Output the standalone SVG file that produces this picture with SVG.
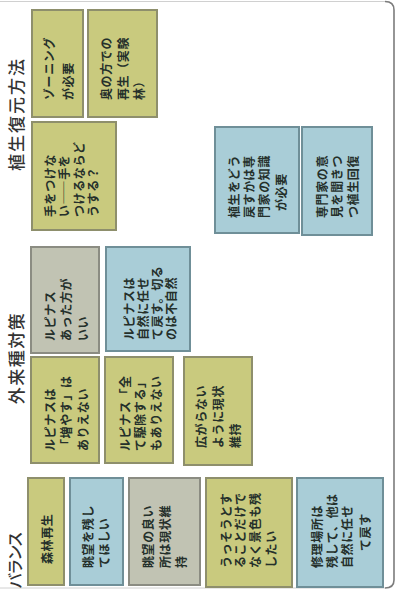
<svg xmlns="http://www.w3.org/2000/svg" width="398" height="591" viewBox="0 0 398 591">
<style>
.bg{fill:#ffffff}
.frame{fill:none;stroke:#7c7c7c;stroke-width:1.6}
.frame2{fill:none;stroke:#d0d0d0;stroke-width:1}
.olive rect{fill:#c9ca7e;stroke:#8e8f6c;stroke-width:2}
.blue rect{fill:#a9cdd7;stroke:#6f8f98;stroke-width:2}
.gray rect{fill:#c1c3b3;stroke:#8b8c82;stroke-width:2}
.t{font-family:"Noto Sans CJK JP","Noto Sans CJK SC",sans-serif;font-size:12px;font-weight:700;fill:#25302b;dominant-baseline:central;letter-spacing:0.6px}
.h{font-family:"Noto Sans CJK JP","Noto Sans CJK SC",sans-serif;font-size:17px;font-weight:500;fill:#333333;dominant-baseline:central;text-anchor:middle}
</style>
<rect class="bg" x="0" y="0" width="398" height="591"/>
<g id="frame">
<path class="frame2" d="M0 1.5 H385"/>
<path class="frame" d="M385 1.5 Q394 1.5 394 10 V580 Q394 588 385 588"/>
<path class="frame2" d="M385 588 H0"/>
</g>
<g id="headings">
<text id="h1" class="h" style="letter-spacing:2px" transform="translate(15 114) rotate(-90)">植生復元方法</text>
<text id="h2" class="h" style="letter-spacing:1.5px" transform="translate(15 358) rotate(-90)">外来種対策</text>
<text id="h3" class="h" style="font-size:16px;letter-spacing:-2px" transform="translate(14 561) rotate(-90)">バランス</text>
</g>
<g id="connectors"></g>

<g id="n1" class="olive">
<rect x="32" y="10" width="51" height="107"/>
<text class="t" transform="translate(48 100) rotate(-90)">ゾーニング</text>
<text class="t" transform="translate(67 100) rotate(-90)">が必要</text>
</g>
<g id="n2" class="olive">
<rect x="88" y="10" width="69" height="107"/>
<text class="t" transform="translate(105 100) rotate(-90)">奥の方での</text>
<text class="t" transform="translate(122 100) rotate(-90)">再生（実験</text>
<text class="t" transform="translate(138 100) rotate(-90)">林）</text>
</g>
<g id="n3" class="olive">
<rect x="32" y="122" width="84" height="108"/>
<text class="t" transform="translate(49 217) rotate(-90)">手をつけな</text>
<text class="t" transform="translate(63.5 217) rotate(-90)">い――手を</text>
<text class="t" transform="translate(78 217) rotate(-90)">つけるならど</text>
<text class="t" transform="translate(92.5 217) rotate(-90)">うする？</text>
</g>
<g id="n4" class="gray">
<rect x="31" y="247" width="68" height="106"/>
<text class="t" transform="translate(49 341) rotate(-90)">ルピナス</text>
<text class="t" transform="translate(65.5 341) rotate(-90)">あった方が</text>
<text class="t" transform="translate(82 341) rotate(-90)">いい</text>
</g>
<g id="n5" class="blue">
<rect x="106" y="247" width="84" height="104"/>
<text class="t" transform="translate(128 340) rotate(-90)">ルピナスは</text>
<text class="t" transform="translate(142 340) rotate(-90)">自然に任せ</text>
<text class="t" transform="translate(156 340) rotate(-90)">て戻す。切る</text>
<text class="t" transform="translate(170 340) rotate(-90)">のは不自然</text>
</g>
<g id="n6" class="blue">
<rect x="215" y="127" width="84" height="106"/>
<text class="t" transform="translate(233 218) rotate(-90)">植生をどう</text>
<text class="t" transform="translate(248 218) rotate(-90)">戻すかは専</text>
<text class="t" transform="translate(263 218) rotate(-90)">門家の知識</text>
<text class="t" transform="translate(280 211) rotate(-90)">が必要</text>
</g>
<g id="n7" class="blue">
<rect x="302" y="127" width="70" height="108"/>
<text class="t" transform="translate(321 218) rotate(-90)">専門家の意</text>
<text class="t" transform="translate(336.5 218) rotate(-90)">見を聞きつ</text>
<text class="t" transform="translate(352 218) rotate(-90)">つ植生回復</text>
</g>
<g id="n8" class="olive">
<rect x="31" y="357" width="68" height="106"/>
<text class="t" transform="translate(49 451) rotate(-90)">ルピナスは</text>
<text class="t" transform="translate(65.5 451) rotate(-90)">「増やす」は</text>
<text class="t" transform="translate(82 451) rotate(-90)">ありえない</text>
</g>
<g id="n9" class="olive">
<rect x="105" y="357" width="68" height="106"/>
<text class="t" transform="translate(124 451) rotate(-90)">ルピナス「全</text>
<text class="t" transform="translate(139.5 451) rotate(-90)">て駆除する」</text>
<text class="t" transform="translate(155 451) rotate(-90)">もありえない</text>
</g>
<g id="n10" class="olive">
<rect x="184" y="357" width="68" height="108"/>
<text class="t" transform="translate(200 448) rotate(-90)">広がらない</text>
<text class="t" transform="translate(217 448) rotate(-90)">ように現状</text>
<text class="t" transform="translate(234 448) rotate(-90)">維持</text>
</g>
<g id="n11" class="olive">
<rect x="28" y="478" width="36" height="107"/>
<text class="t" transform="translate(46.5 564) rotate(-90)">森林再生</text>
</g>
<g id="n12" class="blue">
<rect x="70" y="478" width="53" height="107"/>
<text class="t" transform="translate(87 568) rotate(-90)">眺望を残し</text>
<text class="t" transform="translate(103 568) rotate(-90)">てほしい</text>
</g>
<g id="n13" class="gray">
<rect x="129" y="478" width="71" height="107"/>
<text class="t" transform="translate(147 568) rotate(-90)">眺望の良い</text>
<text class="t" transform="translate(164 568) rotate(-90)">所は現状維</text>
<text class="t" transform="translate(180 568) rotate(-90)">持</text>
</g>
<g id="n14" class="olive">
<rect x="206" y="478" width="86" height="109"/>
<text class="t" transform="translate(225 568) rotate(-90)">うっそうとす</text>
<text class="t" transform="translate(239 568) rotate(-90)">ることだけで</text>
<text class="t" transform="translate(254 568) rotate(-90)">なく景色も残</text>
<text class="t" transform="translate(270 568) rotate(-90)">したい</text>
</g>
<g id="n15" class="blue">
<rect x="297" y="478" width="86" height="109"/>
<text class="t" transform="translate(316 568) rotate(-90)">修理場所は</text>
<text class="t" transform="translate(331 568) rotate(-90)">残して、他は</text>
<text class="t" transform="translate(346 568) rotate(-90)">自然に任せ</text>
<text class="t" transform="translate(364 551) rotate(-90)">て戻す</text>
</g>
</svg>
